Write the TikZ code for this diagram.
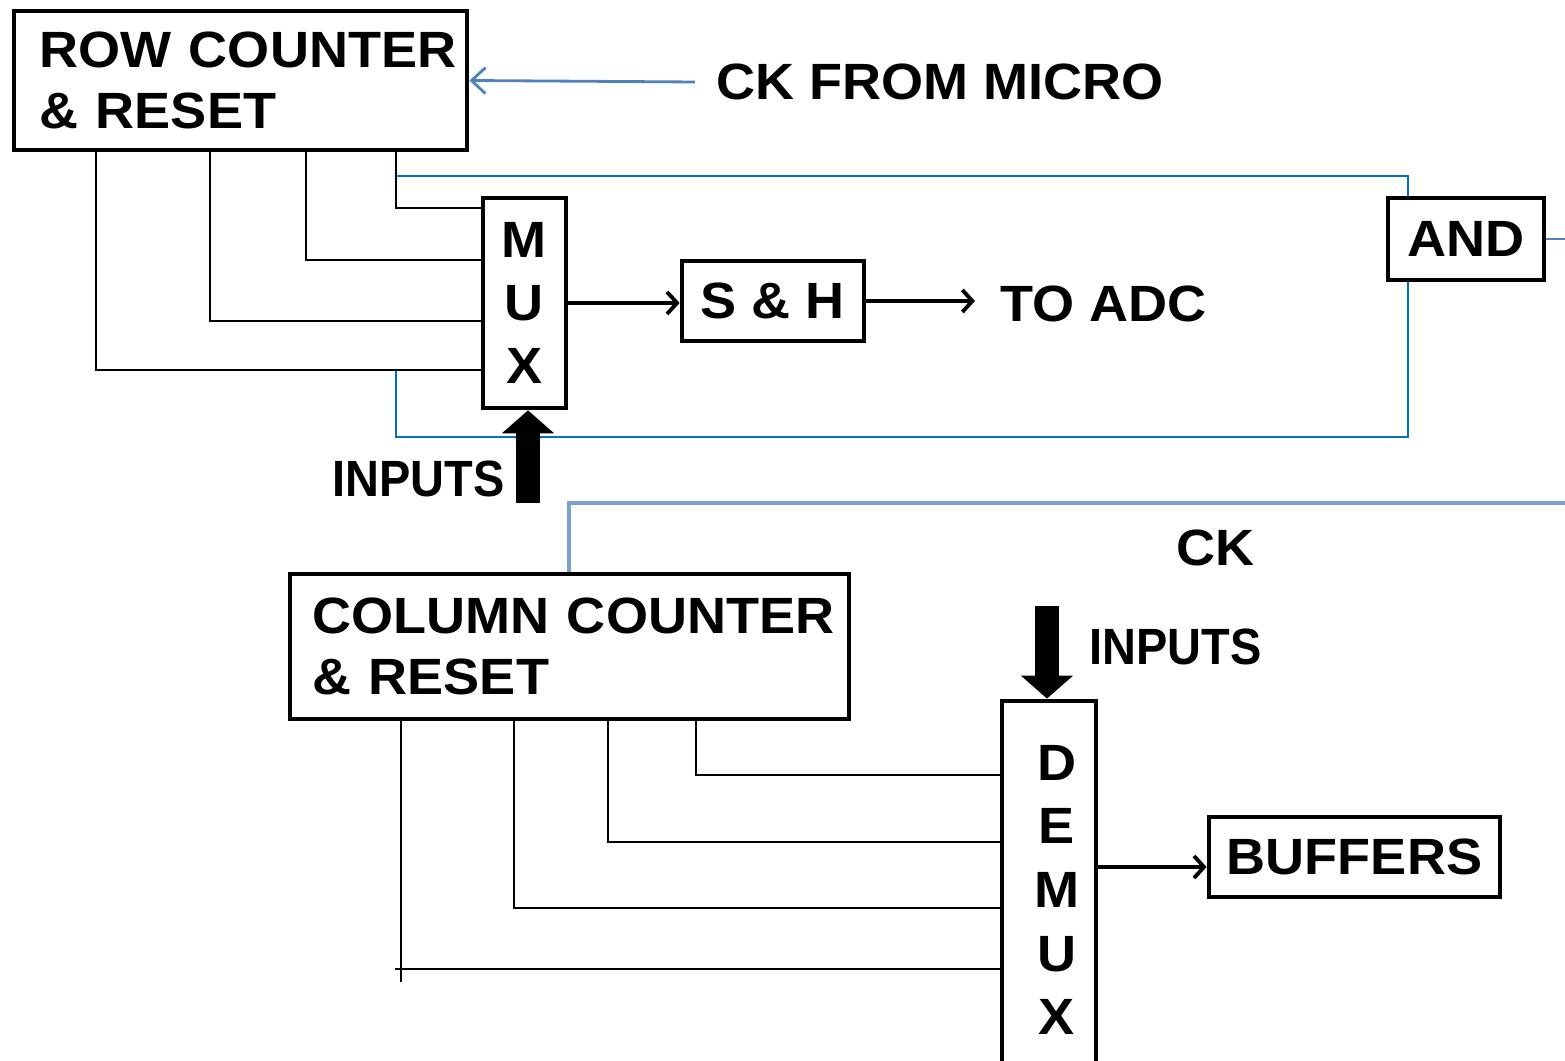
\documentclass[tikz,border=0pt]{standalone}
\usepackage{fontspec}
\setmainfont{Liberation Sans}[FakeStretch=1.06]
\newfontfamily\narrowfont{Liberation Sans}[FakeStretch=0.92]
\usetikzlibrary{arrows.meta}
\definecolor{ctlblue}{RGB}{0,112,192}
\definecolor{ckblue}{RGB}{79,129,189}
\definecolor{lineblue}{RGB}{120,160,210}

\begin{document}
\begin{tikzpicture}[x=0.01cm, y=-0.01cm,
		every node/.style={font=\fontsize{14.5}{17.6}\selectfont\bfseries, inner sep=0pt},
		box/.style={draw, line width=1.3pt, rectangle},
		wire/.style={line width=0.8pt},
		ctl/.style={draw=ctlblue, line width=0.7pt},
		ckline/.style={draw=ckblue, line width=0.8pt},
		lightctl/.style={draw=lineblue, line width=1.1pt},
		sig/.style={line width=1.1pt, -{Straight Barb[length=0.1cm,width=0.22cm]}},
		fatarrow/.style={line width=0.24cm, -{Triangle[length=0.23cm,width=0.51cm]}},
		inlabel/.style={font=\fontsize{14.5}{17.6}\narrowfont\bfseries}]
	
	\useasboundingbox (0,0) rectangle (1565,1061);
	
	% Bloques
	\node[box, minimum width=4.53cm, minimum height=1.39cm, text width=4.01cm, align=left] (rowctr) at (240.5,80.5) {\mbox{ROW COUNTER}\\\& RESET};
	\node[box, minimum width=0.83cm, minimum height=2.1cm, align=center, font=\fontsize{14.5}{17.9}\selectfont\bfseries] (mux) at (524.5,303) {M\\U\\X};
	\node[box, minimum width=1.82cm, minimum height=0.8cm] (sh) at (773,301) {S \& H};
	\node[box, minimum width=1.56cm, minimum height=0.82cm] (and) at (1466,239) {AND};
	\node[box, minimum width=5.59cm, minimum height=1.45cm, text width=5.13cm, align=left] (colctr) at (569.5,646.5) {\mbox{COLUMN COUNTER}\\\& RESET};
	\node[box, minimum width=0.94cm, minimum height=3.78cm] (demux) at (1049,890) {};
	\node[align=center, font=\fontsize{14.5}{18.1}\selectfont\bfseries] (demuxtxt) at ([xshift=0.08cm]demux.center) {D\\E\\M\\U\\X};
	\node[box, minimum width=2.91cm, minimum height=0.8cm] (buf) at (1354.5,857) {BUFFERS};
	
	% Textos
	\node[anchor=west] (ckfm) at (716,82) {CK FROM MICRO};
	\node[anchor=west] (adc) at (1000,304) {TO ADC};
	\node[inlabel, anchor=east] (inmux) at (505,479) {INPUTS};
	\node[inlabel, anchor=west] (indmx) at (1089,647) {INPUTS};
	\node[anchor=west] (ck) at (1176,548) {CK};
	
	% Reloj
	\draw[ckline, -{Straight Barb[length=0.14cm,width=0.26cm]}] ([xshift=-0.21cm]ckfm.west) -- (rowctr.east);
	\coordinate (tapa) at (396,176);
	\draw[ctl] (tapa) -| (1408,0 |- and.north);
	\draw[ctl] (1408,0 |- and.south) |- (396,437) -- (396,370);
	\draw[ckline] (and.east) -- ++(0.3cm,0);
	\draw[lightctl] (colctr.north -| 569,0) |- (1565,503);
	
	% Filas al MUX
	\foreach \x/\y in {96/370, 210/321, 306/260, 396/208}
		\draw[wire] (rowctr.south -| \x,0) |- (mux.west |- 0,\y);
	
	% Columnas al DEMUX
	\foreach \x/\y in {514/908, 608/842, 696/775}
		\draw[wire] (colctr.south -| \x,0) |- (demux.west |- 0,\y);
	\draw[wire] (colctr.south -| 401,0) -- (401,982);
	\draw[wire] (395,969) -- (demux.west |- 0,969);
	
	% Senales
	\draw[sig] (mux.east) -- (mux.east -| sh.west);
	\draw[sig, shorten >=0.25cm] (sh.east) -- (sh.east -| adc.west);
	\draw[sig] (demux.east |- 0,867) -- (buf.west |- 0,867);
	
	\coordinate (ina) at (528,503);
	\draw[fatarrow] (ina) -- (ina |- mux.south);
	\coordinate (inb) at (1047,606);
	\draw[fatarrow] (inb) -- (inb |- demux.north);
\end{tikzpicture}
\end{document}
